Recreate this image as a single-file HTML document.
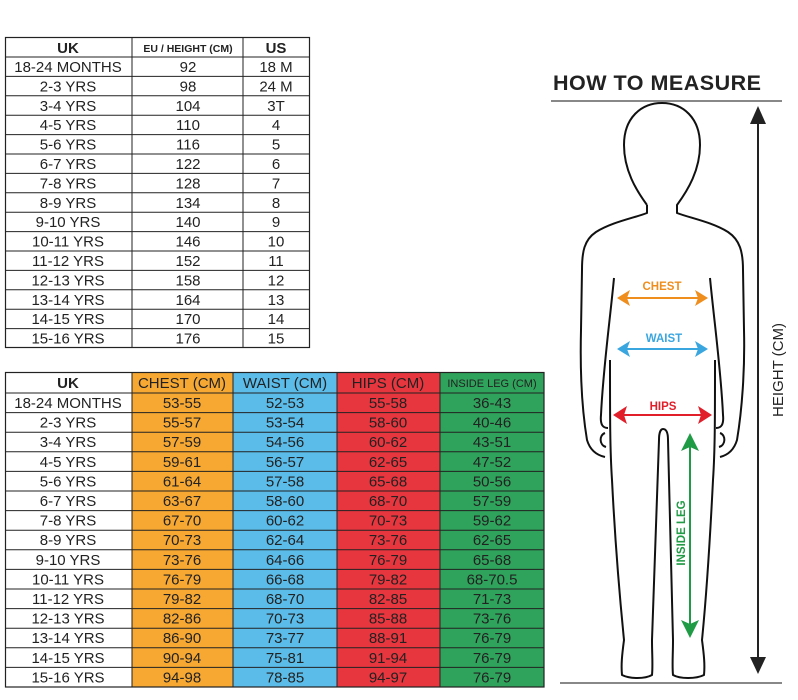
<!DOCTYPE html>
<html><head><meta charset="utf-8"><style>
html,body{margin:0;padding:0;background:#fff;}
svg{display:block;}
text{font-family:"Liberation Sans",sans-serif;}
</style></head><body>
<svg width="798" height="700" viewBox="0 0 798 700" xmlns="http://www.w3.org/2000/svg">
<!-- top table -->
<g font-size="15" fill="#222" text-anchor="middle">
<rect x="5.5" y="37.5" width="304" height="310" fill="#fff" stroke="#222" stroke-width="1.2"/>
<line x1="132" y1="37" x2="132" y2="348" stroke="#222"/>
<line x1="243" y1="37" x2="243" y2="348" stroke="#222"/>
<g stroke="#222" stroke-width="1">
<line x1="5" y1="57" x2="310" y2="57"/><line x1="5" y1="76.4" x2="310" y2="76.4"/><line x1="5" y1="95.8" x2="310" y2="95.8"/><line x1="5" y1="115.2" x2="310" y2="115.2"/><line x1="5" y1="134.6" x2="310" y2="134.6"/><line x1="5" y1="154" x2="310" y2="154"/><line x1="5" y1="173.4" x2="310" y2="173.4"/><line x1="5" y1="192.8" x2="310" y2="192.8"/><line x1="5" y1="212.2" x2="310" y2="212.2"/><line x1="5" y1="231.6" x2="310" y2="231.6"/><line x1="5" y1="251" x2="310" y2="251"/><line x1="5" y1="270.4" x2="310" y2="270.4"/><line x1="5" y1="289.8" x2="310" y2="289.8"/><line x1="5" y1="309.2" x2="310" y2="309.2"/><line x1="5" y1="328.6" x2="310" y2="328.6"/>
</g>
<text x="68" y="53" font-weight="bold">UK</text><text x="188" y="52" font-size="10.5" font-weight="bold">EU / HEIGHT (CM)</text><text x="276" y="53" font-weight="bold">US</text>
<text x="68" y="72">18-24 MONTHS</text><text x="188" y="72">92</text><text x="276" y="72">18 M</text>
<text x="68" y="91.4">2-3 YRS</text><text x="188" y="91.4">98</text><text x="276" y="91.4">24 M</text>
<text x="68" y="110.8">3-4 YRS</text><text x="188" y="110.8">104</text><text x="276" y="110.8">3T</text>
<text x="68" y="130.2">4-5 YRS</text><text x="188" y="130.2">110</text><text x="276" y="130.2">4</text>
<text x="68" y="149.6">5-6 YRS</text><text x="188" y="149.6">116</text><text x="276" y="149.6">5</text>
<text x="68" y="169">6-7 YRS</text><text x="188" y="169">122</text><text x="276" y="169">6</text>
<text x="68" y="188.4">7-8 YRS</text><text x="188" y="188.4">128</text><text x="276" y="188.4">7</text>
<text x="68" y="207.8">8-9 YRS</text><text x="188" y="207.8">134</text><text x="276" y="207.8">8</text>
<text x="68" y="227.2">9-10 YRS</text><text x="188" y="227.2">140</text><text x="276" y="227.2">9</text>
<text x="68" y="246.6">10-11 YRS</text><text x="188" y="246.6">146</text><text x="276" y="246.6">10</text>
<text x="68" y="266">11-12 YRS</text><text x="188" y="266">152</text><text x="276" y="266">11</text>
<text x="68" y="285.4">12-13 YRS</text><text x="188" y="285.4">158</text><text x="276" y="285.4">12</text>
<text x="68" y="304.8">13-14 YRS</text><text x="188" y="304.8">164</text><text x="276" y="304.8">13</text>
<text x="68" y="324.2">14-15 YRS</text><text x="188" y="324.2">170</text><text x="276" y="324.2">14</text>
<text x="68" y="343.6">15-16 YRS</text><text x="188" y="343.6">176</text><text x="276" y="343.6">15</text>
</g>
<!-- bottom table -->
<g font-size="15" fill="#222" text-anchor="middle">
<rect x="5" y="372" width="127" height="315" fill="#fff"/>
<rect x="132" y="372" width="101" height="315" fill="#f6a833"/>
<rect x="233" y="372" width="104" height="315" fill="#5bbce9"/>
<rect x="337" y="372" width="103" height="315" fill="#e8363f"/>
<rect x="440" y="372" width="104" height="315" fill="#2fa35b"/>
<rect x="5.5" y="372.5" width="538.5" height="314.5" fill="none" stroke="#222" stroke-width="1.2"/>
<g stroke="#222" stroke-width="1">
<line x1="132" y1="372" x2="132" y2="687"/><line x1="233" y1="372" x2="233" y2="687"/><line x1="337" y1="372" x2="337" y2="687"/><line x1="440" y1="372" x2="440" y2="687"/>
<line x1="5" y1="393" x2="544" y2="393"/><line x1="5" y1="412.6" x2="544" y2="412.6"/><line x1="5" y1="432.2" x2="544" y2="432.2"/><line x1="5" y1="451.8" x2="544" y2="451.8"/><line x1="5" y1="471.4" x2="544" y2="471.4"/><line x1="5" y1="491" x2="544" y2="491"/><line x1="5" y1="510.6" x2="544" y2="510.6"/><line x1="5" y1="530.2" x2="544" y2="530.2"/><line x1="5" y1="549.8" x2="544" y2="549.8"/><line x1="5" y1="569.4" x2="544" y2="569.4"/><line x1="5" y1="589" x2="544" y2="589"/><line x1="5" y1="608.6" x2="544" y2="608.6"/><line x1="5" y1="628.2" x2="544" y2="628.2"/><line x1="5" y1="647.8" x2="544" y2="647.8"/><line x1="5" y1="667.4" x2="544" y2="667.4"/>
</g>
<text x="68" y="388" font-weight="bold">UK</text><text x="182" y="388">CHEST (CM)</text><text x="285" y="388">WAIST (CM)</text><text x="388" y="388">HIPS (CM)</text><text x="492" y="387" font-size="11">INSIDE LEG (CM)</text>
<text x="68" y="408">18-24 MONTHS</text><text x="182" y="408">53-55</text><text x="285" y="408">52-53</text><text x="388" y="408">55-58</text><text x="492" y="408">36-43</text>
<text x="68" y="427.6">2-3 YRS</text><text x="182" y="427.6">55-57</text><text x="285" y="427.6">53-54</text><text x="388" y="427.6">58-60</text><text x="492" y="427.6">40-46</text>
<text x="68" y="447.2">3-4 YRS</text><text x="182" y="447.2">57-59</text><text x="285" y="447.2">54-56</text><text x="388" y="447.2">60-62</text><text x="492" y="447.2">43-51</text>
<text x="68" y="466.8">4-5 YRS</text><text x="182" y="466.8">59-61</text><text x="285" y="466.8">56-57</text><text x="388" y="466.8">62-65</text><text x="492" y="466.8">47-52</text>
<text x="68" y="486.4">5-6 YRS</text><text x="182" y="486.4">61-64</text><text x="285" y="486.4">57-58</text><text x="388" y="486.4">65-68</text><text x="492" y="486.4">50-56</text>
<text x="68" y="506">6-7 YRS</text><text x="182" y="506">63-67</text><text x="285" y="506">58-60</text><text x="388" y="506">68-70</text><text x="492" y="506">57-59</text>
<text x="68" y="525.6">7-8 YRS</text><text x="182" y="525.6">67-70</text><text x="285" y="525.6">60-62</text><text x="388" y="525.6">70-73</text><text x="492" y="525.6">59-62</text>
<text x="68" y="545.2">8-9 YRS</text><text x="182" y="545.2">70-73</text><text x="285" y="545.2">62-64</text><text x="388" y="545.2">73-76</text><text x="492" y="545.2">62-65</text>
<text x="68" y="564.8">9-10 YRS</text><text x="182" y="564.8">73-76</text><text x="285" y="564.8">64-66</text><text x="388" y="564.8">76-79</text><text x="492" y="564.8">65-68</text>
<text x="68" y="584.4">10-11 YRS</text><text x="182" y="584.4">76-79</text><text x="285" y="584.4">66-68</text><text x="388" y="584.4">79-82</text><text x="492" y="584.4">68-70.5</text>
<text x="68" y="604">11-12 YRS</text><text x="182" y="604">79-82</text><text x="285" y="604">68-70</text><text x="388" y="604">82-85</text><text x="492" y="604">71-73</text>
<text x="68" y="623.6">12-13 YRS</text><text x="182" y="623.6">82-86</text><text x="285" y="623.6">70-73</text><text x="388" y="623.6">85-88</text><text x="492" y="623.6">73-76</text>
<text x="68" y="643.2">13-14 YRS</text><text x="182" y="643.2">86-90</text><text x="285" y="643.2">73-77</text><text x="388" y="643.2">88-91</text><text x="492" y="643.2">76-79</text>
<text x="68" y="662.8">14-15 YRS</text><text x="182" y="662.8">90-94</text><text x="285" y="662.8">75-81</text><text x="388" y="662.8">91-94</text><text x="492" y="662.8">76-79</text>
<text x="68" y="682.4">15-16 YRS</text><text x="182" y="682.4">94-98</text><text x="285" y="682.4">78-85</text><text x="388" y="682.4">94-97</text><text x="492" y="682.4">76-79</text>
</g>
<!-- how to measure -->
<text x="553" y="90" font-size="21.5" font-weight="bold" fill="#222" letter-spacing="0.5">HOW TO MEASURE</text>
<line x1="551" y1="101" x2="782" y2="101" stroke="#888" stroke-width="2"/>
<line x1="560" y1="683" x2="782" y2="683" stroke="#888" stroke-width="2"/>
<line x1="758" y1="115" x2="758" y2="662" stroke="#222" stroke-width="2"/>
<polygon points="758,106 750,124 766,124" fill="#222"/>
<polygon points="758,674 750,657 766,657" fill="#222"/>
<text transform="translate(783,370) rotate(-90)" font-size="15" fill="#222" text-anchor="middle">HEIGHT (CM)</text>
<!-- figure -->
<g fill="none" stroke="#111" stroke-width="2" stroke-linejoin="round">
<path d="M647,205 C636,190 624,170 624,145 C624,118 641,103 662,103 C683,103 700,118 700,145 C700,170 688,190 677,205 L677,213 C690,218 712,222 728,232 C740,240 743,252 743,270 L744,330 C745,370 742,410 737,440 C734,450 728,455 720,457"/>
<path d="M647,205 L647,213 C634,218 612,222 596,232 C584,240 582,252 582,270 L581,330 C580,370 582,410 587,440 C590,450 596,455 605,457"/>
<path d="M614,278 C610,320 603,370 601,415 C600,425 603,428 608,428"/>
<path d="M710,278 C714,320 721,370 723,415 C724,425 721,428 716,428"/>
<path d="M610,360 C610,420 610,450 612,480 C615,540 620,600 624,640 C622,655 621,665 622,675 C630,679 645,679 652,675 C653,665 652,655 652,640 C654,580 656,510 659,440 C659,432 661,429 663,429 C666,429 668,432 668,440 C670,510 672,580 673,640 C673,655 672,665 673,675 C680,679 696,679 704,675 C705,665 704,655 702,640 C706,600 710,540 713,480 C715,450 715,420 715,360"/>
<path d="M605,433 C599,435 599,445 606,447"/>
<path d="M720,433 C726,435 726,445 719,447"/>
</g>
<!-- arrows -->
<g font-size="11.5" font-weight="bold" text-anchor="middle">
<text x="662" y="290" fill="#ef8e1d">CHEST</text>
<line x1="625" y1="298" x2="700" y2="298" stroke="#ef8e1d" stroke-width="2"/>
<polygon points="617,298 630,290 627,298 630,306" fill="#ef8e1d"/>
<polygon points="708,298 695,290 698,298 695,306" fill="#ef8e1d"/>
<text x="664" y="342" fill="#3aa6e0">WAIST</text>
<line x1="625" y1="349" x2="700" y2="349" stroke="#3aa6e0" stroke-width="2"/>
<polygon points="617,349 630,341 627,349 630,357" fill="#3aa6e0"/>
<polygon points="708,349 695,341 698,349 695,357" fill="#3aa6e0"/>
<text x="663" y="410" fill="#e01f2a">HIPS</text>
<line x1="620" y1="415" x2="705" y2="415" stroke="#e01f2a" stroke-width="2"/>
<polygon points="613,415 627,406 624,415 627,424" fill="#e01f2a"/>
<polygon points="712,415 698,406 701,415 698,424" fill="#e01f2a"/>
<line x1="690" y1="440" x2="690" y2="632" stroke="#1f9a45" stroke-width="2"/>
<polygon points="690,433 681,451 690,447 699,451" fill="#1f9a45"/>
<polygon points="690,638 681,620 690,624 699,620" fill="#1f9a45"/>
<text transform="translate(685,533) rotate(-90)" fill="#1f9a45" font-size="11.5" text-anchor="middle">INSIDE LEG</text>
</g>
</svg>
</body></html>
